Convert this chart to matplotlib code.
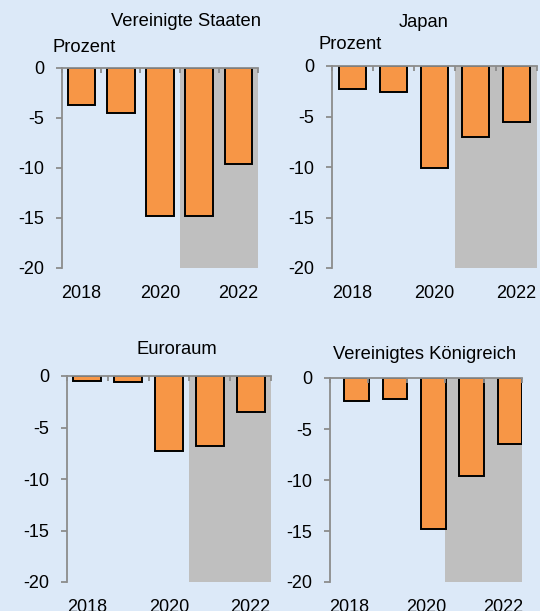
import matplotlib.pyplot as plt
import numpy as np

plt.rcParams['font.family'] = ['Liberation Sans', 'DejaVu Sans']

years = ['2018', '2019', '2020', '2021', '2022']
us = [-3.7, -4.5, -14.8, -14.8, -9.6]
japan = [-2.3, -2.6, -10.1, -7.0, -5.5]
euro = [-0.5, -0.6, -7.3, -6.8, -3.5]
uk = [-2.3, -2.1, -14.8, -9.6, -6.5]
titles = ['Vereinigte Staaten', 'Japan', 'Euroraum', 'Vereinigtes Königreich']

W, H = 540, 611
bg = '#dce9f8'
orange = '#f79646'
shade = '#bfbfbf'
axis_grey = '#8c8c8c'

fig = plt.figure(figsize=(W / 100, H / 100), dpi=100)
fig.patch.set_facecolor(bg)


def panel(left, right, top, bottom, values, width, offset=0.0):
    ax = fig.add_axes([left / W, 1 - bottom / H, (right - left) / W, (bottom - top) / H])
    ax.set_facecolor(bg)
    x = np.arange(len(values))
    # forecast years shaded
    ax.axvspan(2.5, 4.5, color=shade, lw=0, zorder=0)
    ax.bar(x + offset, values, width=width, color=orange, edgecolor='black', linewidth=1.4, zorder=1)
    ax.set_xlim(-0.5, 4.5)
    ax.set_ylim(-20, 0)
    ax.set_yticks([0, -5, -10, -15, -20])
    ax.set_yticklabels(['0', '-5', '-10', '-15', '-20'])
    ax.set_xticks([0, 2, 4])
    ax.set_xticklabels([years[0], years[2], years[4]])
    ax.set_xticks(np.arange(-0.5, 5, 1), minor=True)
    for s in ['right', 'bottom']:
        ax.spines[s].set_visible(False)
    for s in ['left', 'top']:
        ax.spines[s].set_color(axis_grey)
        ax.spines[s].set_linewidth(1.3)
    ax.tick_params(axis='x', which='major', length=0, pad=12, labelsize=13)
    ax.tick_params(axis='x', which='minor', bottom=False, top=True, direction='in',
                   length=3.5, width=1.3, color=axis_grey)
    ax.tick_params(axis='y', length=4.3, width=1.3, color=axis_grey, pad=8.5, labelsize=13)
    return ax


panel(62, 258, 68, 268, us, 0.7)
panel(332, 537, 66, 268, japan, 0.66)
panel(67, 271, 376, 582, euro, 0.69)
panel(330, 522, 378, 582, uk, 0.64, offset=0.19)

fs = 13.2
fig.text(186 / W, 1 - 26.5 / H, titles[0], ha='center', va='baseline', fontsize=fs)
fig.text(52 / W, 1 - 52 / H, 'Prozent', ha='left', va='baseline', fontsize=fs)
fig.text(424 / W, 1 - 27 / H, titles[1], ha='center', va='baseline', fontsize=fs)
fig.text(319 / W, 1 - 49 / H, 'Prozent', ha='left', va='baseline', fontsize=fs)
fig.text(177 / W, 1 - 354 / H, titles[2], ha='center', va='baseline', fontsize=fs)
fig.text(425 / W, 1 - 359 / H, titles[3], ha='center', va='baseline', fontsize=fs)

fig.savefig('out.png', dpi=100, facecolor=bg)
